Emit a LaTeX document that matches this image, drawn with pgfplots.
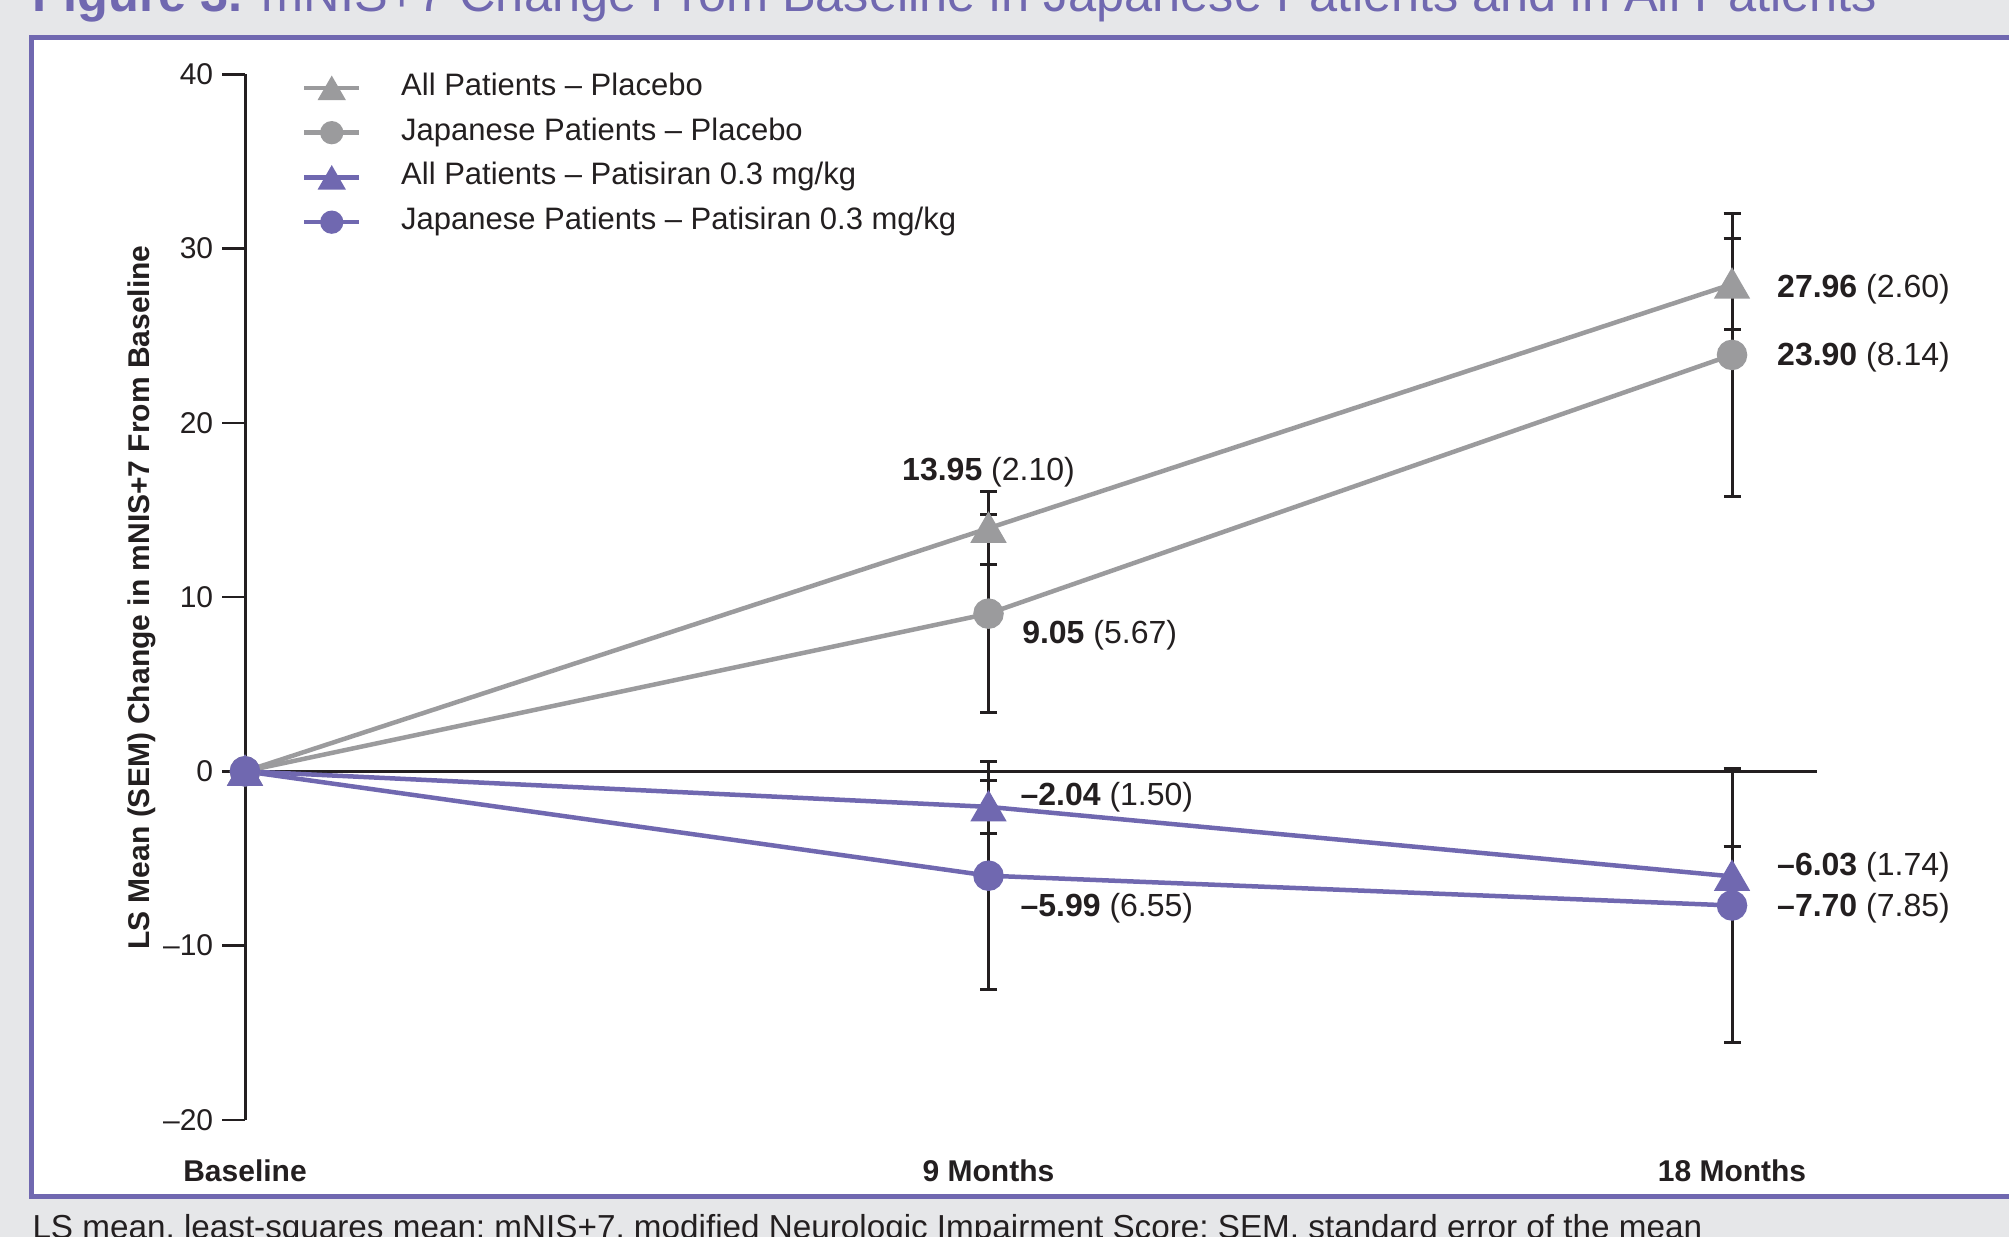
\documentclass[border=0pt]{standalone}
\usepackage{fontspec}
\setmainfont{Liberation Sans}
\usepackage{pgfplots}
\pgfplotsset{compat=1.18}
\definecolor{bg}{RGB}{230,231,233}
\definecolor{pur}{RGB}{112,104,176}
\definecolor{gry}{RGB}{155,155,157}
\definecolor{txt}{RGB}{35,31,32}
\begin{document}
\begin{tikzpicture}
\path[use as bounding box] (0pt,0pt) rectangle (803.6pt,494.8pt);
\clip (0pt,0pt) rectangle (803.6pt,494.8pt);
\fill[bg] (0pt,0pt) rectangle (803.6pt,494.8pt);
\filldraw[fill=white, draw=pur, line width=1.8pt] (12.6pt,16.2pt) rectangle (840pt,479.8pt);
\node[anchor=base west, text=pur, font=\fontsize{20.2}{24}\selectfont, inner sep=0pt] at (12.8pt,490.2pt) {\textbf{Figure 3.} mNIS+7 Change From Baseline in Japanese Patients and in All Patients};
\node[anchor=base west, text=txt, font=\fontsize{13.3}{16}\selectfont, inner sep=0pt] at (12.8pt,-0.8pt) {LS mean, least-squares mean; mNIS+7, modified Neurologic Impairment Score; SEM, standard error of the mean};
\begin{axis}[
  at={(98pt,46.88pt)}, anchor=south west,
  scale only axis, width=628.8pt, height=418.16pt,
  xmin=0, xmax=2.1143, ymin=-20, ymax=40,
  clip=false,
  axis x line*=bottom, axis y line*=left,
  x axis line style={draw=none},
  y axis line style={txt, line width=1.2pt},
  xtick={0,1,2}, xticklabels={Baseline, 9 Months, 18 Months},
  xtick style={draw=none},
  ytick={-20,-10,0,10,20,30,40},
  yticklabels={–20,–10,0,10,20,30,40},
  ytick style={txt, line width=1pt},
  tick align=outside, major tick length=9.2pt,
  yticklabel style={font=\fontsize{12}{14}\selectfont, text=txt},
  xticklabel style={font=\bfseries\fontsize{12}{14}\selectfont, text=txt, anchor=base, yshift=-15.6pt},
  ylabel={LS Mean (SEM) Change in mNIS+7 From Baseline},
  ylabel style={font=\bfseries\fontsize{12}{14}\selectfont, text=txt, at={(axis description cs:-0.0655,0.4996)}, anchor=center},
  legend style={at={(axis description cs:0.03626,1.0014)}, anchor=north west, draw=none, fill=none, inner sep=0pt, outer sep=0pt, row sep=5.9pt, font=\fontsize{12.4}{14}\selectfont, text=txt, nodes={inner sep=0pt, text height=9pt, text depth=3pt}},
  legend cell align=left,
  legend image code/.code={%
    \draw[mark repeat=2,mark phase=2,#1] plot coordinates {(0pt,0pt) (11pt,0pt) (22pt,0pt)};
    \path[draw=none, fill=none] (0pt,0pt) -- (38.8pt,0pt);
  },
  legend image post style={/tikz/every mark/.append style={scale=0.72}},
]
\draw[txt, line width=1pt] (axis cs:0,0) -- (axis cs:2.1143,0);
\addplot[draw=none, forget plot, error bars/.cd, y dir=both, y explicit,
  error bar style={draw=txt, line width=1.2pt},
  error mark options={rotate=90, mark size=3.4pt, draw=txt, line width=1.2pt}]
  coordinates {(1,13.95) +- (0,2.10) (2,27.96) +- (0,2.60)
               (1,9.05) +- (0,5.67) (2,23.90) +- (0,8.14)
               (1,-2.04) +- (0,1.50) (2,-6.03) +- (0,1.74)
               (1,-5.99) +- (0,6.55) (2,-7.70) +- (0,7.85)};
\addplot[gry, line width=1.8pt, mark=triangle*, mark size=6.6pt, mark options={solid, yshift=-1.6pt}]
  coordinates {(0,0) (1,13.95) (2,27.96)};
\addlegendentry{All Patients – Placebo}
\addplot[gry, line width=1.8pt, mark=*, mark size=5.2pt, mark options={solid}]
  coordinates {(0,0) (1,9.05) (2,23.90)};
\addlegendentry{Japanese Patients – Placebo}
\addplot[pur, line width=1.8pt, mark=triangle*, mark size=6.6pt, mark options={solid, yshift=-1.6pt}]
  coordinates {(0,0) (1,-2.04) (2,-6.03)};
\addlegendentry{All Patients – Patisiran 0.3 mg/kg}
\addplot[pur, line width=1.8pt, mark=*, mark size=5.2pt, mark options={solid}]
  coordinates {(0,0) (1,-5.99) (2,-7.70)};
\addlegendentry{Japanese Patients – Patisiran 0.3 mg/kg}
\begin{scope}[every node/.style={font=\fontsize{12.8}{15}\selectfont, text=txt, inner sep=0pt}]
\node[anchor=base] at (axis cs:1,16.68) {\textbf{13.95} (2.10)};
\node[anchor=base west] at (axis cs:1.0447,7.35) {\textbf{9.05} (5.67)};
\node[anchor=base west] at (axis cs:1.0424,-1.934) {\textbf{–2.04} (1.50)};
\node[anchor=base west] at (axis cs:1.0424,-8.35) {\textbf{–5.99} (6.55)};
\node[anchor=base west] at (axis cs:2.0601,27.21) {\textbf{27.96} (2.60)};
\node[anchor=base west] at (axis cs:2.0601,23.32) {\textbf{23.90} (8.14)};
\node[anchor=base west] at (axis cs:2.0601,-5.98) {\textbf{–6.03} (1.74)};
\node[anchor=base west] at (axis cs:2.0601,-8.35) {\textbf{–7.70} (7.85)};
\end{scope}
\end{axis}
\end{tikzpicture}
\end{document}
